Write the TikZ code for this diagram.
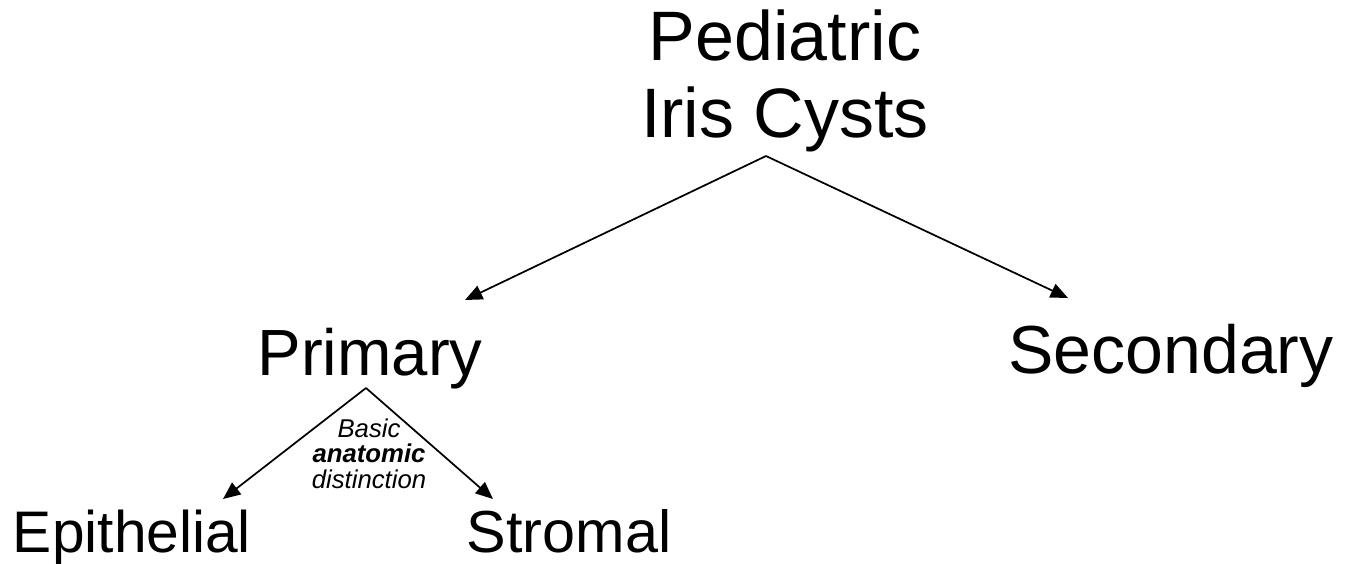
\documentclass[tikz,border=0pt]{standalone}
\usepackage{fontspec}
\setmainfont{Liberation Sans}
\usetikzlibrary{arrows.meta, positioning}
\tikzset{
    bigtext/.style={anchor=base, inner sep=0, font=\fontsize{#1}{56}\selectfont},
    bigtext/.default=48,
    toptext/.style={anchor=base, inner sep=0, align=center, font=\fontsize{52.5}{57.75}\selectfont},
    note/.style={anchor=base, inner sep=0, align=center, font=\fontsize{19.3}{19.1}\selectfont\itshape},
    link/.style={line width=1.3pt, -{Triangle[length=13pt, width=11pt]}}
  }

\begin{document}
\begin{tikzpicture}[x=0.75pt, y=-0.75pt]
            \useasboundingbox (0,0) rectangle (1346,564);
            % base anchor of a two-line node sits on its last line
            \node (root) [toptext] at (785,137) {Pediatric\\Iris Cysts};
            \node (primary) [bigtext=49] at (370,375) {Primary};
            \node (secondary) [bigtext=51] at (1171,373) {Secondary};
            \node (epithelial) [bigtext=44] at (132,552) {Epithelial};
            \node (stromal) [bigtext=44.5] at (569,552) {Stromal};
            \node (why) [note] at (369,488) {Basic\\\textbf{anatomic}\\distinction};
            \coordinate (rootfork) at (766,156);
            \coordinate (primfork) at (366,388);
            \draw[link] (rootfork) -- ([shift={(95,-75)}]primary.base);
            \draw[link] (rootfork) -- ([shift={(-103,-75)}]secondary.base);
            \draw[link] (primfork) -- ([shift={(91,-53)}]epithelial.base);
            \draw[link] (primfork) -- ([shift={(-76,-53)}]stromal.base);
        \end{tikzpicture}
\end{document}
